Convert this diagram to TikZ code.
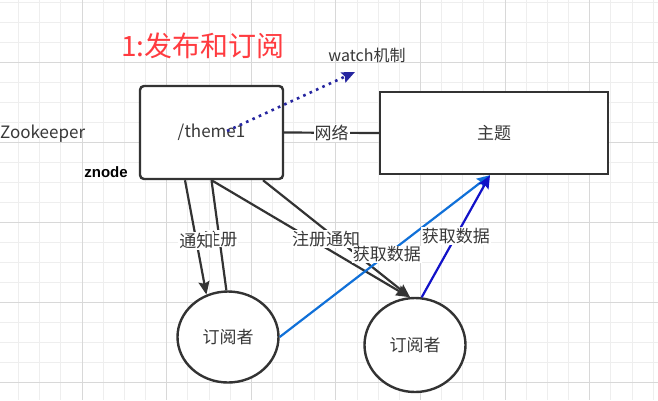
\documentclass[tikz,border=0pt]{standalone}
\usepackage{fontspec}
\setmainfont{Noto Sans CJK SC}
\newfontfamily\znodefont{Liberation Sans}
\usetikzlibrary{arrows.meta,shapes.geometric,calc}
\definecolor{txtgray}{HTML}{383838}
\definecolor{linegray}{HTML}{333333}
\definecolor{titlered}{HTML}{FF3B40}
\definecolor{getblue}{HTML}{1070D8}
\definecolor{darkblue}{HTML}{1212C8}
\definecolor{dotblue}{HTML}{2626A0}
\definecolor{minorgrid}{HTML}{EEEEEE}
\definecolor{majorgrid}{HTML}{D8D8D8}

\begin{document}
\begin{tikzpicture}[x=1pt,y=-1pt,
    zbox/.style={draw=linegray,line width=2.4pt,fill=white,text=txtgray,
      font=\fontsize{17}{20}\selectfont},
    subnode/.style={ellipse,draw=linegray,line width=2.4pt,fill=white,
      text=txtgray,inner sep=0pt,font=\fontsize{17}{20}\selectfont},
    conn/.style={draw=linegray,line width=2.2pt},
    arrowtip/.style={-{Stealth[length=13pt,width=11pt,inset=2pt]}},
    lbl/.style={fill=white,text=txtgray,inner sep=1pt,
      font=\fontsize{17}{20}\selectfont}]
  \useasboundingbox (0,0) rectangle (658,400);
  \fill[white] (0,0) rectangle (658,400);

  % grid
  \foreach \i in {0,...,30}
    \draw[minorgrid,line width=0.8pt] ({18.55+21.15*\i},0) -- ++(0,400);
  \foreach \i in {0,...,19}
    \draw[minorgrid,line width=0.8pt] (0,{2+20*\i}) -- ++(658,0);
  \foreach \i in {0,...,6}
    \draw[majorgrid,line width=0.8pt] ({82+84.6*\i},0) -- ++(0,400);
  \foreach \i in {0,...,4}
    \draw[majorgrid,line width=0.8pt] (0,{62+80*\i}) -- ++(658,0);

  % texts
  \node[text=titlered,font=\fontsize{28}{32}\selectfont] (title) at (203,46) {1:发布和订阅};
  \node[text=txtgray,font=\fontsize{16}{19}\selectfont] (watch) at (367,55) {watch机制};
  \node[text=txtgray,anchor=west,inner sep=0pt,font=\fontsize{17}{20}\selectfont] (zk) at (0,134) {Zookeeper};
  \node[font=\znodefont\bfseries\fontsize{15}{17}\selectfont] (znode) at (106,172) {znode};

  % boxes
  \node[zbox,rounded corners=4pt,minimum width=143pt,minimum height=93pt] (theme) at (211.5,132.5) {/theme1};
  \node[zbox,minimum width=228pt,minimum height=82pt] (topic) at (494,133) {主题};
  \node[subnode,minimum width=101pt,minimum height=91pt] (sub1) at (228,337) {订阅者};
  \node[subnode,minimum width=101pt,minimum height=94pt] (sub2) at (415,345) {订阅者};

  \draw[conn] (theme.east) -- node[lbl] {网络} (topic.west);

  \draw[conn] (sub1.92) -- node[lbl,pos=.47,xshift=1pt] {注册} (theme.south);
  \draw[conn,arrowtip] ([xshift=-26.5pt]theme.south) -- node[lbl,pos=.53] {通知} (sub1.117);

  \draw[conn,arrowtip] ([xshift=51.5pt]theme.south) -- (sub2.96);
  \draw[conn,arrowtip] (theme.south) -- node[lbl,pos=.58,yshift=9pt] {注册通知} (sub2.97);

  \draw[getblue,line width=2.2pt,arrowtip] (sub1.east) -- node[lbl,pos=.51] {获取数据} ([xshift=-4pt]topic.south);
  \draw[darkblue,line width=2.2pt,arrowtip] (sub2.82) -- node[lbl,pos=.5] {获取数据} ([xshift=-4pt]topic.south);

  \coordinate (watchpt) at (355,72);
  \draw[dotblue,line width=2.6pt,dash pattern=on 2.6pt off 4.4pt,
    -{Stealth[length=13pt,width=11pt,inset=2pt]}] ([xshift=15.5pt,yshift=1.5pt]theme.center) -- (watchpt);
\end{tikzpicture}
\end{document}
